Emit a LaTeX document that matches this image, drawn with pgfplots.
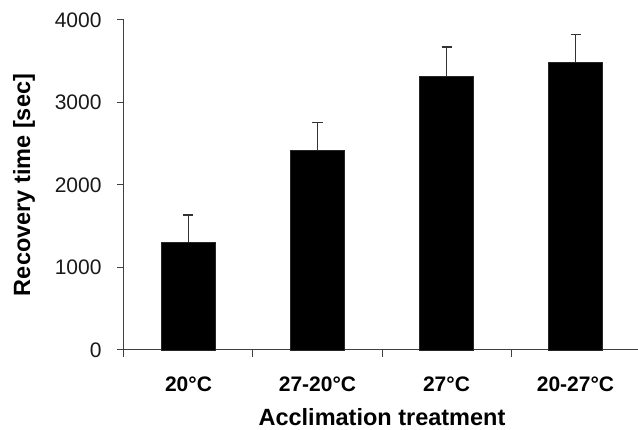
\documentclass[border=0pt]{standalone}
\usepackage{pgfplots}
\pgfplotsset{compat=1.18}
\usepackage{fontspec}
\setmainfont{Liberation Sans}
\begin{document}
\begin{tikzpicture}
\begin{axis}[
  scale only axis,
  width=516bp, height=330bp,
  xmin=-0.5, xmax=3.5,
  ymin=0, ymax=4000,
  axis x line*=bottom, axis y line*=left,
  axis line style={draw=black!75, line width=1bp},
  ytick={0,1000,2000,3000,4000},
  xtick={0,1,2,3},
  xticklabels={20°C,27-20°C,27°C,20-27°C},
  minor xtick={-0.5,0.5,1.5,2.5,3.5},
  tick align=outside,
  major tick length=7bp, minor tick length=7bp,
  x tick style={draw=none},
  minor x tick style={draw=black!75, line width=1bp},
  y tick style={draw=black!75, line width=1bp},
  /pgf/number format/assume math mode=true,
  /pgf/number format/1000 sep={},
  yticklabel style={font=\fontsize{21bp}{24bp}\selectfont, text=black!90, xshift=-12bp},
  xticklabel style={font=\fontsize{21bp}{24bp}\selectfont\bfseries, yshift=-16bp},
  xlabel={Acclimation treatment},
  ylabel={Recovery time [sec]},
  xlabel style={font=\fontsize{23.5bp}{26bp}\selectfont\bfseries, at={(axis description cs:0.5,0)}, anchor=base, yshift=-76bp},
  ylabel style={font=\fontsize{23.5bp}{26bp}\selectfont\bfseries, at={(axis description cs:0,0.5)}, anchor=center, yshift=100bp},
  clip=false,
]
\addplot[ybar, bar width=54bp, fill=black, draw=black!85,
  error bars/.cd, y dir=plus, y explicit,
  error bar style={draw=black!80, line width=1.3bp},
  error mark options={rotate=90, mark size=5bp, draw=black!80, line width=1.3bp}]
  coordinates {
    (0,1305) +- (0,330)
    (1,2424) +- (0,336)
    (2,3317) +- (0,356)
    (3,3487) +- (0,335)
  };
\coordinate (sw) at (rel axis cs:0,0);
\coordinate (ne) at (rel axis cs:1,1);
\end{axis}
\pgfresetboundingbox
\useasboundingbox ([shift={(-124bp,-80bp)}]sw) rectangle ([shift={(-2bp,20bp)}]ne);
\end{tikzpicture}
\end{document}
